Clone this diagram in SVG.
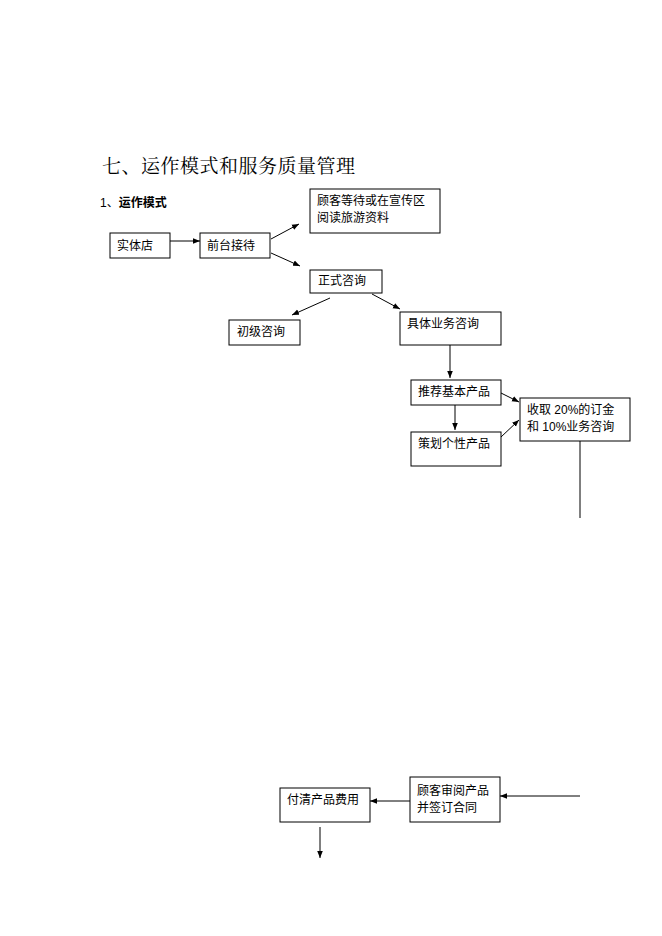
<svg xmlns="http://www.w3.org/2000/svg" width="662" height="936" viewBox="0 0 662 936">
<style>
.b{fill:#fff;stroke:#000;stroke-width:1}
.t{font-family:"Liberation Sans","Noto Sans CJK SC",sans-serif;font-size:12px;fill:#000}
.c line{stroke:#000;stroke-width:1}
</style>
<defs><marker id="a" viewBox="0 0 10 10" refX="10" refY="5" markerWidth="7" markerHeight="7" orient="auto" markerUnits="userSpaceOnUse"><path d="M0,1 L10,5 L0,9 z" fill="#000"/></marker></defs>
<rect width="662" height="936" fill="#fff"/>
<text x="102" y="173" font-family="'Noto Serif CJK SC','Noto Sans CJK SC',serif" font-size="19" letter-spacing="0.5">七、运作模式和服务质量管理</text>
<text x="100" y="207" class="t" font-size="14"><tspan>1、</tspan><tspan font-weight="bold">运作模式</tspan></text>
<g id="n1"><rect class="b" x="110" y="233" width="60" height="25"/><text class="t" x="117" y="250">实体店</text></g>
<g id="n2"><rect class="b" x="200" y="233" width="70" height="25"/><text class="t" x="207" y="250">前台接待</text></g>
<g id="n3"><rect class="b" x="310" y="189" width="130" height="44"/><text class="t" x="317" y="205">顾客等待或在宣传区</text><text class="t" x="317" y="222">阅读旅游资料</text></g>
<g id="n4"><rect class="b" x="310" y="270" width="72" height="23"/><text class="t" x="318" y="285">正式咨询</text></g>
<g id="n5"><rect class="b" x="229" y="320" width="71" height="25"/><text class="t" x="237" y="336">初级咨询</text></g>
<g id="n6"><rect class="b" x="400" y="312" width="101" height="33"/><text class="t" x="407" y="328">具体业务咨询</text></g>
<g id="n7"><rect class="b" x="411" y="380" width="90" height="25"/><text class="t" x="418" y="396">推荐基本产品</text></g>
<g id="n8"><rect class="b" x="411" y="432" width="90" height="34"/><text class="t" x="418" y="448">策划个性产品</text></g>
<g id="n9"><rect class="b" x="520" y="398" width="110" height="43"/><text class="t" x="527" y="414">收取 20%的订金</text><text class="t" x="527" y="431">和 10%业务咨询</text></g>
<g id="n10"><rect class="b" x="280" y="788" width="90" height="34"/><text class="t" x="287" y="804">付清产品费用</text></g>
<g id="n11"><rect class="b" x="410" y="777" width="90" height="45"/><text class="t" x="417" y="795">顾客审阅产品</text><text class="t" x="417" y="812">并签订合同</text></g>
<g class="c">
<line x1="170" y1="241" x2="200" y2="241" marker-end="url(#a)"/>
<line x1="271" y1="239" x2="299" y2="224" marker-end="url(#a)"/>
<line x1="271" y1="253" x2="300" y2="266" marker-end="url(#a)"/>
<line x1="330" y1="298" x2="292" y2="315" marker-end="url(#a)"/>
<line x1="372" y1="294" x2="400" y2="309" marker-end="url(#a)"/>
<line x1="450" y1="345" x2="450" y2="378" marker-end="url(#a)"/>
<line x1="455" y1="405" x2="455" y2="430" marker-end="url(#a)"/>
<line x1="501" y1="393" x2="519" y2="402" marker-end="url(#a)"/>
<line x1="501" y1="437" x2="519" y2="420" marker-end="url(#a)"/>
<line x1="580" y1="441" x2="580" y2="518"/>
<line x1="580" y1="796" x2="500" y2="796" marker-end="url(#a)"/>
<line x1="410" y1="801" x2="370" y2="801" marker-end="url(#a)"/>
<line x1="320" y1="827" x2="320" y2="858" marker-end="url(#a)"/>
</g>
</svg>
